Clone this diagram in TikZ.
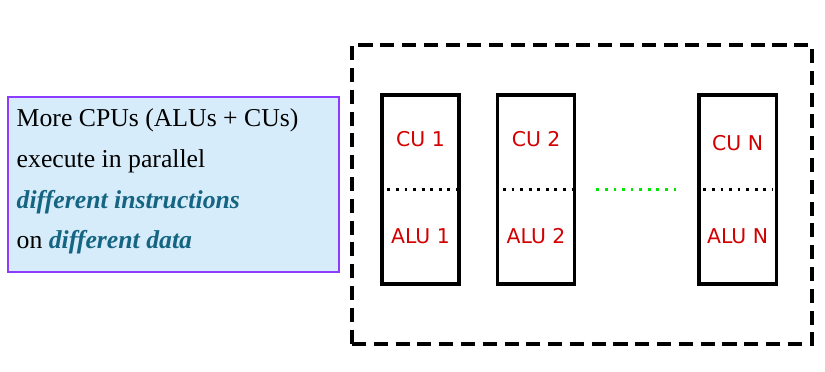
\documentclass[tikz,border=0pt]{standalone}
\usepackage{fontspec}
\setmainfont{Liberation Serif}
\newfontfamily\labelfont{DejaVu Sans}
\usetikzlibrary{positioning, calc}

\definecolor{panelfill}{RGB}{214,236,250}
\definecolor{panelline}{RGB}{140,60,255}
\definecolor{keyword}{RGB}{20,100,130}
\definecolor{unitred}{RGB}{210,0,0}
\definecolor{dotgreen}{RGB}{0,230,0}

\begin{document}
\begin{tikzpicture}[
    panel/.style={
        rectangle,
        draw=panelline,
        fill=panelfill,
        line width=0.8pt,
        minimum width=8.275cm,
        minimum height=4.375cm
    },
    desc/.style={
        align=left,
        inner sep=0pt,
        font=\fontsize{18.3}{29}\selectfont
    },
    frame/.style={
        rectangle,
        draw=black,
        line width=2.5pt,
        dash pattern=on 10pt off 5.5pt,
        minimum width=11.5cm,
        minimum height=7.475cm
    },
    cpu/.style={
        rectangle,
        draw=black,
        line width=2.4pt,
        minimum width=1.93cm,
        minimum height=4.73cm,
        node distance=0.875cm
    },
    unit/.style={
        font=\labelfont\fontsize{14.5}{16}\selectfont,
        text=unitred
    },
    split/.style={
        line width=2pt,
        dash pattern=on 2pt off 4.1pt
    }
]
    \useasboundingbox (0,0) rectangle (20.625,-9.3);

    % -- Left description --
    \node[panel] (info) at (4.3375,-4.6125) {};
    \node[desc, anchor=north west] (infotext) at ($(info.north west)+(0.225,-0.3)$)
        {More CPUs (ALUs + CUs)\\
         execute in parallel\\
         {\color{keyword}\bfseries\itshape different instructions}\\
         on {\color{keyword}\bfseries\itshape different data}};

    % -- Outer frame --
    \node[frame] (mimd) at (14.55,-4.8625) {};

    % -- Processors --
    \node[cpu] (p1) at (10.5125,-4.7375) {};
    \node[cpu, right=of p1] (p2) {};
    \node[cpu, right=3.025cm of p2] (pn) {};

    % Labels
    \node[unit] (cu1) at ($(p1.center)+(0,1.25)$) {CU 1};
    \node[unit] (alu1) at ($(p1.center)+(0,-1.17)$) {ALU 1};
    \node[unit] (cu2) at ($(p2.center)+(0,1.25)$) {CU 2};
    \node[unit] (alu2) at ($(p2.center)+(0,-1.17)$) {ALU 2};
    \node[unit] (cun) at ($(pn.center)+(0,1.15)$) {CU N};
    \node[unit] (alun) at ($(pn.center)+(0,-1.17)$) {ALU N};

    % Dotted separators
    \draw[split] ($(p1.west)+(0.18,0)$) -- ($(p1.east)+(-0.1,0)$);
    \draw[split] ($(p2.west)+(0.18,0)$) -- ($(p2.east)+(-0.1,0)$);
    \draw[split] ($(pn.west)+(0.15,0)$) -- ($(pn.east)+(-0.12,0)$);

    % More processors
    \draw[split, dotgreen] ($(p2.east)+(0.5,0)$) -- ($(pn.west)+(-0.5,0)$);

\end{tikzpicture}
\end{document}
